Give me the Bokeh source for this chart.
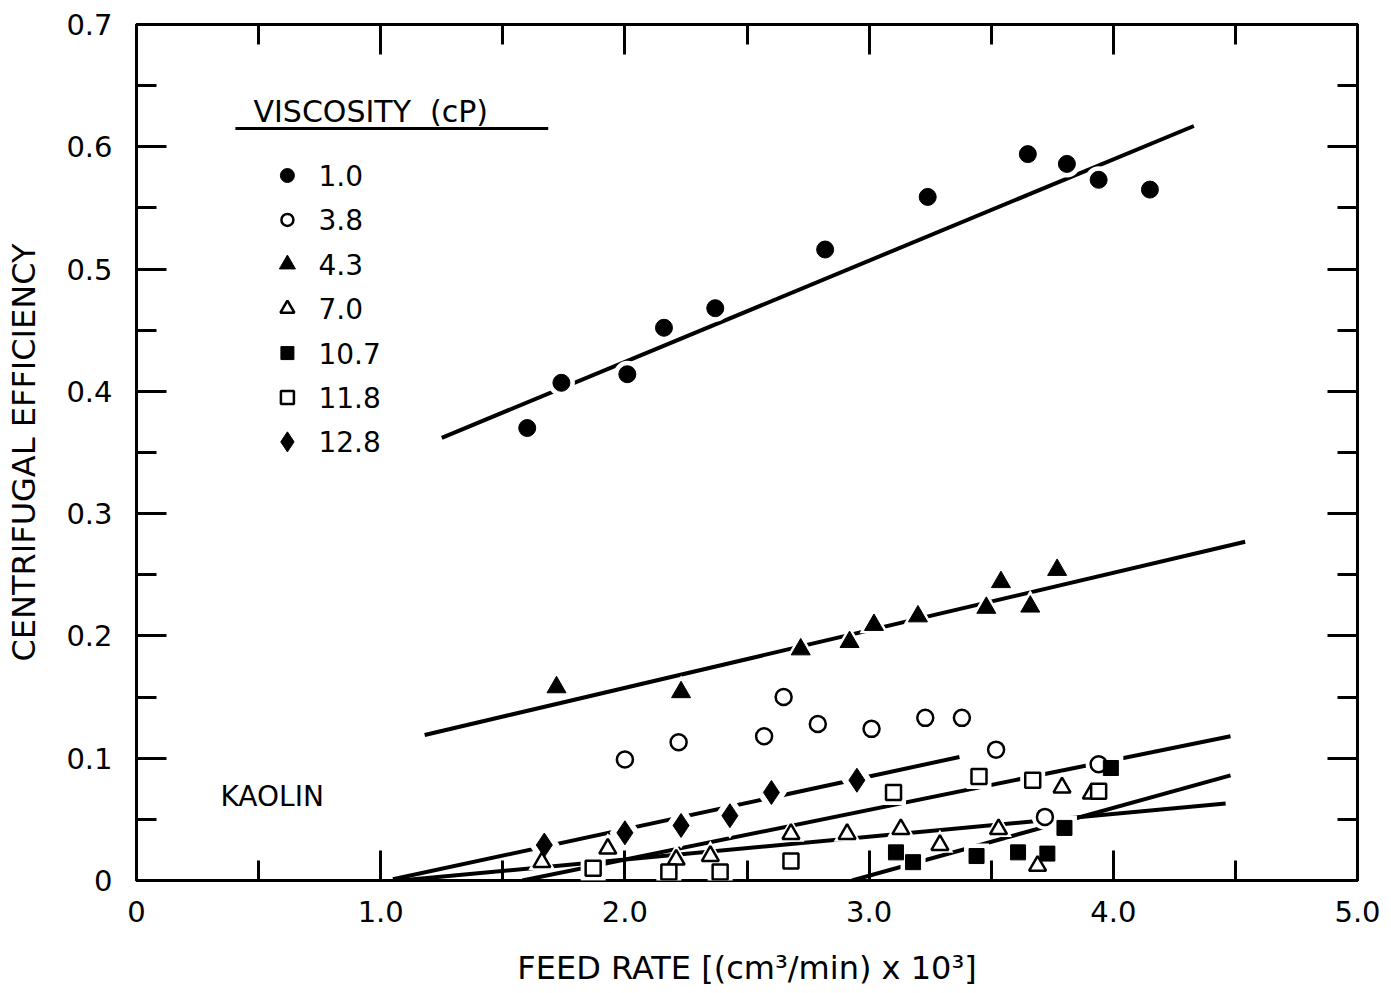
from bokeh.plotting import figure
from bokeh.models import Range1d, FixedTicker, LinearAxis, CustomJSTickFormatter
from bokeh.core.properties import value
from bokeh.embed import file_html
from bokeh.resources import INLINE

FONT = "DejaVu Sans"

# Feed rate (x 10^3 cm^3/min) and centrifugal efficiency for kaolin at each viscosity (cP)
visc_labels = ["1.0", "3.8", "4.3", "7.0", "10.7", "11.8", "12.8"]

feed_1_0 = [1.60, 1.74, 2.01, 2.16, 2.37, 2.82, 3.24, 3.65, 3.81, 3.94, 4.15]
eff_1_0 = [0.370, 0.407, 0.414, 0.452, 0.468, 0.516, 0.559, 0.594, 0.586, 0.573, 0.565]

feed_3_8 = [2.00, 2.22, 2.57, 2.65, 2.79, 3.01, 3.23, 3.38, 3.52, 3.72, 3.94]
eff_3_8 = [0.099, 0.113, 0.118, 0.150, 0.128, 0.124, 0.133, 0.133, 0.107, 0.052, 0.095]

feed_4_3 = [1.72, 2.23, 2.72, 2.92, 3.02, 3.20, 3.48, 3.54, 3.66, 3.77]
eff_4_3 = [0.158, 0.154, 0.189, 0.195, 0.209, 0.216, 0.223, 0.244, 0.224, 0.254]

feed_7_0 = [1.66, 1.93, 2.21, 2.35, 2.68, 2.91, 3.13, 3.29, 3.53, 3.69, 3.79, 3.91]
eff_7_0 = [0.015, 0.026, 0.017, 0.020, 0.038, 0.038, 0.042, 0.029, 0.042, 0.012, 0.076, 0.071]

feed_10_7 = [3.11, 3.18, 3.44, 3.61, 3.73, 3.80, 3.99]
eff_10_7 = [0.023, 0.015, 0.020, 0.023, 0.022, 0.043, 0.092]

feed_11_8 = [1.87, 2.18, 2.39, 2.68, 3.10, 3.45, 3.67, 3.94]
eff_11_8 = [0.010, 0.007, 0.007, 0.016, 0.072, 0.085, 0.082, 0.073]

feed_12_8 = [1.67, 2.00, 2.23, 2.43, 2.60, 2.95]
eff_12_8 = [0.029, 0.039, 0.045, 0.053, 0.072, 0.082]

# Fitted trend lines (start and end points) for 1.0, 4.3, 7.0, 10.7, 11.8, 12.8 cP
fit_x0 = [1.25, 1.18, 1.08, 2.93, 1.58, 1.05]
fit_y0 = [0.362, 0.119, 0.000, 0.000, 0.000, 0.001]
fit_x1 = [4.33, 4.54, 4.46, 4.48, 4.48, 3.37]
fit_y1 = [0.617, 0.277, 0.063, 0.086, 0.118, 0.101]

# Axis tick positions
x_major = [0, 1, 2, 3, 4, 5]
x_minor = [0.5, 1.5, 2.5, 3.5, 4.5]
y_major = [0, 0.1, 0.2, 0.3, 0.4, 0.5, 0.6, 0.7]
y_minor = [0.05, 0.15, 0.25, 0.35, 0.45, 0.55, 0.65]

series = [
    (feed_1_0, eff_1_0, "circle", True, 17, 14),
    (feed_3_8, eff_3_8, "circle", False, 16, 12),
    (feed_4_3, eff_4_3, "triangle", True, 19, 16),
    (feed_7_0, eff_7_0, "triangle", False, 17, 14),
    (feed_10_7, eff_10_7, "square", True, 15, 13),
    (feed_11_8, eff_11_8, "square", False, 15, 13),
    (feed_12_8, eff_12_8, "diamond", True, 24, 20),
]

p = figure(
    width=1391, height=993,
    x_range=Range1d(0, 5), y_range=Range1d(0, 0.7),
    output_backend="svg", toolbar_location=None,
    min_border_left=136, min_border_right=34,
    min_border_top=24, min_border_bottom=113,
    x_axis_label="FEED RATE [(cm³/min) x 10³]",
    y_axis_label="CENTRIFUGAL EFFICIENCY",
)
p.xgrid.visible = False
p.ygrid.visible = False
p.outline_line_color = "black"
p.outline_line_width = 3
p.background_fill_color = "white"
p.border_fill_color = "white"

label_fmt = CustomJSTickFormatter(code="return Math.abs(tick) < 1e-9 ? '0' : tick.toFixed(1);")
blank_fmt = CustomJSTickFormatter(code="return '';")


def x_ticker():
    return FixedTicker(ticks=x_major, minor_ticks=x_minor)


def y_ticker():
    return FixedTicker(ticks=y_major, minor_ticks=y_minor)


def style_axis(ax):
    ax.axis_line_color = None
    ax.major_tick_in = 30
    ax.major_tick_out = 0
    ax.minor_tick_in = 20
    ax.minor_tick_out = 0
    ax.major_tick_line_width = 3
    ax.minor_tick_line_width = 3
    ax.major_label_text_font = FONT
    ax.major_label_text_font_size = "29px"
    ax.major_label_text_color = "black"
    ax.axis_label_text_font = FONT
    ax.axis_label_text_font_style = "normal"
    ax.axis_label_text_color = "black"


xb = p.xaxis[0]
xb.ticker = x_ticker()
xb.formatter = label_fmt
style_axis(xb)
xb.major_label_standoff = 20
xb.axis_label_standoff = 24
xb.axis_label_text_font_size = "32px"

yl = p.yaxis[0]
yl.ticker = y_ticker()
yl.formatter = label_fmt
style_axis(yl)
yl.major_label_standoff = 24
yl.axis_label_standoff = 20
yl.axis_label_text_font_size = "32px"

top = LinearAxis(ticker=x_ticker(), formatter=blank_fmt)
right = LinearAxis(ticker=y_ticker(), formatter=blank_fmt)
for ax in (top, right):
    style_axis(ax)
    ax.major_label_text_font_size = "10px"
p.add_layout(top, "above")
p.add_layout(right, "right")

# Trend lines
p.segment(x0=fit_x0, y0=fit_y0, x1=fit_x1, y1=fit_y1, line_color="black", line_width=4)

# White halos break the trend lines around each data point
for xs, ys, marker, filled, size, _ in series:
    pad = 22 if marker == "diamond" else 10
    p.scatter(xs, ys, marker=marker, size=size + pad, fill_color="white", line_color=None)

for xs, ys, marker, filled, size, _ in series:
    p.scatter(xs, ys, marker=marker, size=size,
              fill_color="black" if filled else "white",
              line_color="black", line_width=1 if filled else 2.5)

# Legend block
p.text(x=[0.479], y=[0.6288], text=["VISCOSITY\u00a0\u00a0(cP)"], text_font=value(FONT),
       text_font_size=value("30px"), text_baseline="middle", text_color="black")
p.line(x=[0.405, 1.686], y=[0.615, 0.615], line_color="black", line_width=3)

for i, (label, (_, _, marker, filled, _, lsize)) in enumerate(zip(visc_labels, series)):
    row_y = 0.5765 - i * 0.0363
    p.scatter([0.618], [row_y], marker=marker, size=lsize,
              fill_color="black" if filled else "white",
              line_color="black", line_width=1 if filled else 2.5)
    p.text(x=[0.745], y=[row_y], text=[label], text_font=value(FONT),
           text_font_size=value("28px"), text_baseline="middle", text_color="black")

p.text(x=[0.344], y=[0.069], text=["KAOLIN"], text_font=value(FONT),
       text_font_size=value("28px"), text_baseline="middle", text_color="black")

open("out.html", "w").write(file_html(p, INLINE))
